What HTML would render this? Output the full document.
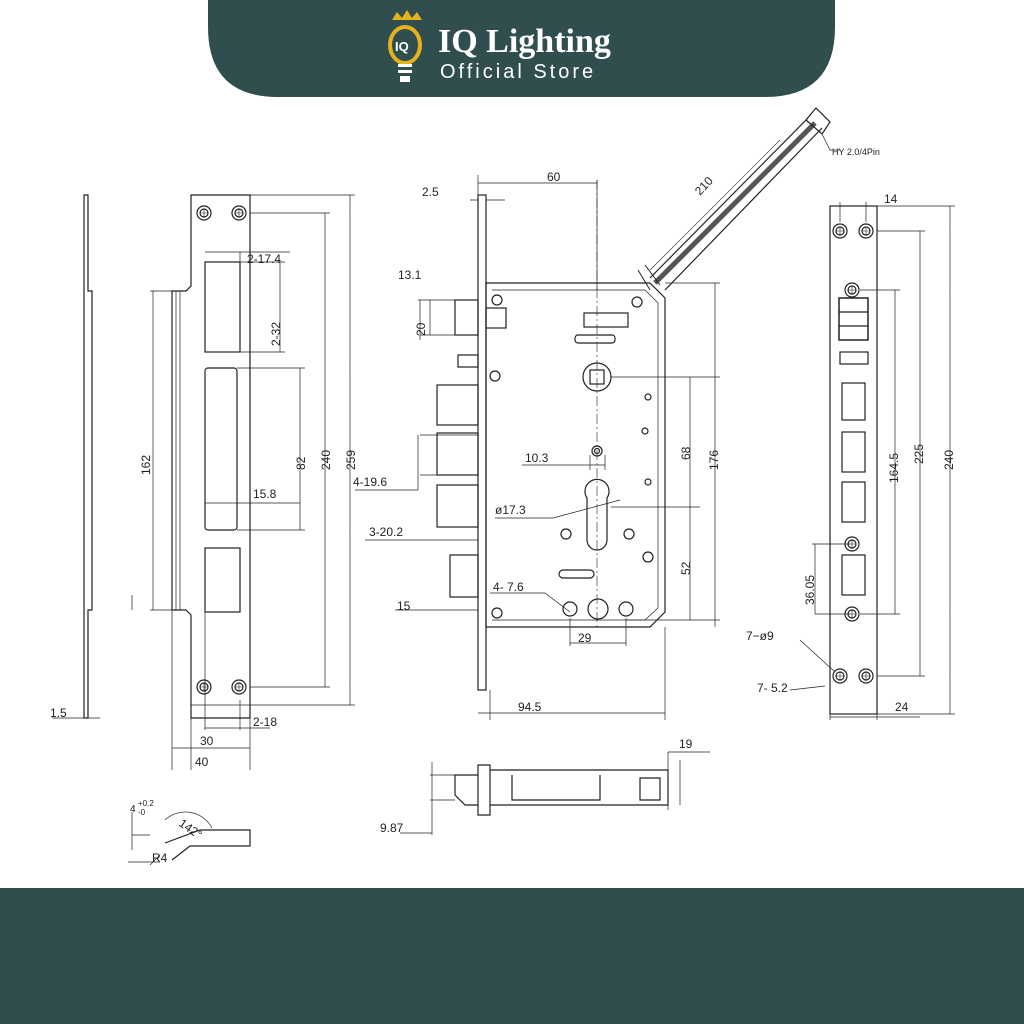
<!DOCTYPE html><html><head><style>body{margin:0;background:#fff}svg{display:block}text{font-family:"Liberation Sans",sans-serif;font-size:12px;fill:#222}</style></head><body>
<svg width="1024" height="1024" viewBox="0 0 1024 1024" xmlns="http://www.w3.org/2000/svg">
<defs><g id="h" fill="none" stroke="#222"><circle cx="0" cy="0" r="7" stroke-width="1.2"/><circle cx="0" cy="0" r="4" stroke-width="1.2"/><path d="M-4 0H4M0 -4V4" stroke-width=".6"/></g></defs>
<path d="M208 0H835V27Q835 97 765 97H278Q208 97 208 27Z" fill="#2f4e4d"/>
<rect x="0" y="888" width="1024" height="136" fill="#2f4e4d"/>
<g>
<path d="M392 20l5 -8 5 6 5 -8 5 8 5 -6 5 8z" fill="#e5b21b"/>
<ellipse cx="405" cy="45" rx="15" ry="18" fill="none" stroke="#e5b21b" stroke-width="4"/>
<text x="395" y="51" style="font-size:13px;font-weight:bold;fill:#fff">IQ</text>
<rect x="398" y="64" width="14" height="3" fill="#fff"/><rect x="398" y="70" width="14" height="3" fill="#fff"/><rect x="400" y="76" width="10" height="6" fill="#fff"/>
<text x="438" y="52" style="font-family:'Liberation Serif',serif;font-size:34px;font-weight:bold;fill:#fff">IQ Lighting</text>
<text x="440" y="78" style="font-size:20px;letter-spacing:3px;fill:#fff">Official Store</text>
</g>
<g fill="none" stroke="#222" stroke-width="1.2">
<path d="M84 195V718H88V610H92V291H88V195Z"/>
<line x1="52" y1="718" x2="100" y2="718" stroke-width=".7"/>
<path d="M191 195H250V718H191V615L186 610H172V291H186L191 286Z"/>
<line x1="176" y1="291" x2="176" y2="610" stroke-width=".7"/><line x1="180" y1="291" x2="180" y2="610" stroke-width=".7"/>
<use href="#h" x="204" y="213"/><use href="#h" x="239" y="213"/><use href="#h" x="204" y="687"/><use href="#h" x="239" y="687"/>
<rect x="205" y="262" width="35" height="90"/><rect x="205" y="368" width="32" height="162" rx="3"/><rect x="205" y="548" width="35" height="64"/>
<g stroke-width=".7">
<path d="M250 195H355M250 705H355M350 195V705M250 213H330M250 687H330M325 213V687M237 368H305M237 530H305M300 368V530M172 291H150M172 610H150M153 291V610"/>
<path d="M205 252H290M240 252V352M240 262H285M280 262V352M240 352H285M205 612V730M240 700V730M205 728H270M191 718V770M250 718V770M172 610V770M172 748H250M191 728V748M191 705H250"/>
<path d="M205 503H300M132 595V610"/>
</g>
<rect x="478" y="195" width="8" height="495"/>
<path d="M486 283H650L665 298V612L650 627H486Z"/>
<path d="M492 290H645L658 303V608L645 620H492" stroke-width=".7"/>
<rect x="455" y="300" width="23" height="35"/><rect x="486" y="308" width="20" height="20"/><rect x="458" y="355" width="20" height="12"/>
<rect x="437" y="385" width="41" height="40"/><rect x="437" y="433" width="41" height="42"/><rect x="437" y="485" width="41" height="42"/><rect x="450" y="555" width="28" height="42"/>
<rect x="584" y="313" width="44" height="14"/><rect x="575" y="335" width="40" height="8" rx="3"/>
<circle cx="497" cy="300" r="5"/><circle cx="637" cy="302" r="5"/><circle cx="495" cy="376" r="5"/><circle cx="497" cy="613" r="5"/>
<circle cx="597" cy="377" r="14"/><rect x="590" y="370" width="14" height="14"/>
<circle cx="597" cy="451" r="5"/><circle cx="597" cy="451" r="2.5"/>
<path d="M587 498A12 12 0 1 1 607 498V540A10 10 0 0 1 587 540Z"/>
<circle cx="566" cy="534" r="5"/><circle cx="629" cy="534" r="5"/><circle cx="648" cy="397" r="3"/><circle cx="645" cy="431" r="3"/><circle cx="648" cy="482" r="3"/><circle cx="648" cy="557" r="5"/>
<rect x="559" y="570" width="35" height="8" rx="4"/>
<circle cx="570" cy="609" r="7"/><circle cx="626" cy="609" r="7"/><circle cx="598" cy="609" r="10"/>
<line x1="597" y1="180" x2="597" y2="630" stroke-width=".6" stroke-dasharray="10 3 2 3"/>
<g stroke-width=".7">
<path d="M478 195V175M597 180V290M478 183H597M486 200H505M478 200H470M420 300H478M420 300V340M420 335H455M418 300H470M430 300V335M420 335H478"/>
<path d="M420 435H478M420 475H478M418 435V490M355 490H418M415 540H478M365 540H478M420 610H478M395 610H470M490 690V720M665 627V720M478 713H665"/>
<path d="M611 377H720M611 507H700M625 620H720M715 283V627M690 377V620M665 283H720"/>
<path d="M522 465H605M590 455V470M605 455V470M495 518H553L620 500M490 593H545L570 612M570 618V646M626 618V646M570 643H626"/>
</g>
<path d="M650 278L808 118M665 290L822 128" stroke-width="1.2"/>
<path d="M655 283L815 123" stroke-width="5" stroke="#555"/>
<path d="M638 270L650 290M645 265L660 285" stroke-width="1"/>
<path d="M806 120L816 108L830 122L822 134Z"/>
<path d="M822 134L830 150H840" stroke-width=".7"/>
<path d="M650 270L780 140" stroke-width=".6"/>
<rect x="830" y="206" width="47" height="508"/>
<use href="#h" x="840" y="231"/><use href="#h" x="866" y="231"/><use href="#h" x="840" y="676"/><use href="#h" x="866" y="676"/>
<use href="#h" x="852" y="290"/><use href="#h" x="852" y="544"/><use href="#h" x="852" y="614"/>
<rect x="839" y="298" width="29" height="42" stroke-width="1.5"/><line x1="839" y1="312" x2="868" y2="312"/><line x1="839" y1="326" x2="868" y2="326"/>
<rect x="840" y="352" width="28" height="12"/>
<rect x="842" y="383" width="23" height="37"/><rect x="842" y="432" width="23" height="40"/><rect x="842" y="482" width="23" height="40"/><rect x="842" y="555" width="23" height="40"/>
<g stroke-width=".7"><path d="M840 202V222M866 202V222M840 206H920M877 206H955M950 206V714M877 714H955M877 231H925M920 231V676M877 676H925M860 290H900M895 290V614M860 614H900M812 544H850M815 544V614M815 614H850M830 714V720M877 714V720M830 717H920M800 640L835 672M790 690L825 686"/></g>
<path d="M478 765H490V815H478Z M490 770H668V805H490 M455 775H478V805H465L455 795Z M512 775V800H600V775 M640 778H660V800H640Z"/>
<g stroke-width=".7"><path d="M430 775H478M430 800H455M432 762V835M400 833H432M668 752V810M668 752H710M680 760V805"/></g>
<path d="M165 843L200 830H250V846H190L172 860" />
<path d="M165 820A30 30 0 0 1 212 828" stroke-width=".7"/>
<path d="M132 812V850M132 835H150M160 855L150 865M128 862H160" stroke-width=".7"/>
</g>
<g>
<text x="247" y="263">2-17.4</text>
<text x="280" y="346" transform="rotate(-90 280 346)">2-32</text>
<text x="305" y="470" transform="rotate(-90 305 470)">82</text>
<text x="330" y="470" transform="rotate(-90 330 470)">240</text>
<text x="355" y="470" transform="rotate(-90 355 470)">259</text>
<text x="150" y="475" transform="rotate(-90 150 475)">162</text>
<text x="253" y="498">15.8</text>
<text x="253" y="726">2-18</text>
<text x="200" y="745">30</text>
<text x="195" y="766">40</text>
<text x="50" y="717">1.5</text>
<text x="130" y="812" style="font-size:10px">4</text><text x="138" y="806" style="font-size:8px">+0.2</text><text x="138" y="815" style="font-size:8px">-0</text>
<text x="178" y="825" transform="rotate(35 178 825)">142°</text>
<text x="152" y="862">R4</text>
<text x="422" y="196">2.5</text>
<text x="547" y="181">60</text>
<text x="398" y="279">13.1</text>
<text x="425" y="336" transform="rotate(-90 425 336)">20</text>
<text x="353" y="486">4-19.6</text>
<text x="369" y="536">3-20.2</text>
<text x="397" y="610">15</text>
<text x="525" y="462">10.3</text>
<text x="495" y="514">ø17.3</text>
<text x="493" y="591">4-  7.6</text>
<text x="578" y="642">29</text>
<text x="518" y="711">94.5</text>
<text x="690" y="460" transform="rotate(-90 690 460)">68</text>
<text x="690" y="575" transform="rotate(-90 690 575)">52</text>
<text x="718" y="470" transform="rotate(-90 718 470)">176</text>
<text x="700" y="196" transform="rotate(-47 700 196)">210</text>
<text x="832" y="155" style="font-size:9px">HY 2.0/4Pin</text>
<text x="884" y="203">14</text>
<text x="898" y="483" transform="rotate(-90 898 483)">164.5</text>
<text x="923" y="464" transform="rotate(-90 923 464)">225</text>
<text x="953" y="470" transform="rotate(-90 953 470)">240</text>
<text x="814" y="605" transform="rotate(-90 814 605)">36.05</text>
<text x="746" y="640">7−ø9</text>
<text x="757" y="692">7-  5.2</text>
<text x="895" y="711">24</text>
<text x="679" y="748">19</text>
<text x="380" y="832">9.87</text>
</g>
</svg></body></html>
